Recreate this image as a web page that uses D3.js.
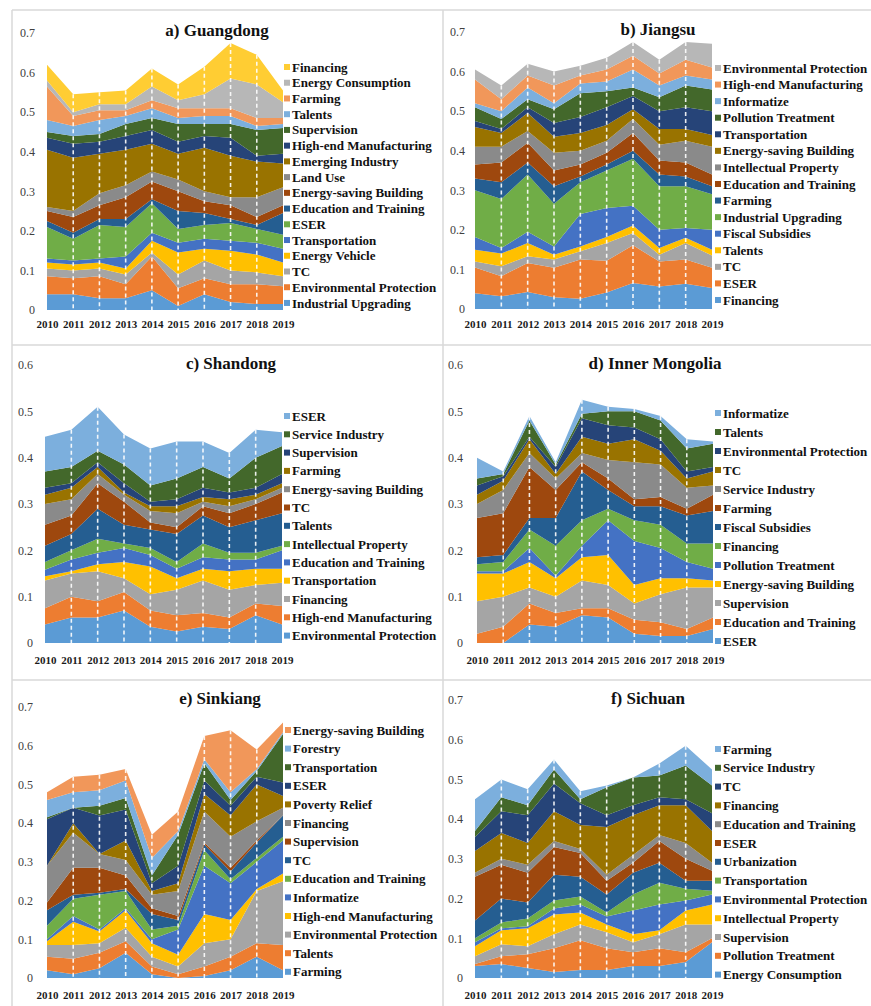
<!DOCTYPE html>
<html>
<head>
<meta charset="utf-8">
<script src="https://cdn.jsdelivr.net/npm/d3@7/dist/d3.min.js"></script>
<style>
  html, body { margin: 0; padding: 0; background: #ffffff; }
  svg { display: block; }
  text { font-family: "Liberation Serif", "Times New Roman", serif; }
</style>
</head>
<body>
<svg id="chart" width="871" height="1006"></svg>
<script>
// Years on the category axis
const years = [2010, 2011, 2012, 2013, 2014, 2015, 2016, 2017, 2018, 2019];

// ---- a) Guangdong (series listed bottom to top of the stack) ----
const guangdongSeries = ["Industrial Upgrading", "Environmental Protection", "TC", "Energy Vehicle",
  "Transportation", "ESER", "Education and Training", "Energy-saving Building", "Land Use",
  "Emerging Industry", "High-end Manufacturing", "Supervision", "Talents", "Farming",
  "Energy Consumption", "Financing"];
const guangdongValues = [
  [0.040, 0.040, 0.030, 0.030, 0.050, 0.010, 0.040, 0.020, 0.015, 0.015],
  [0.045, 0.040, 0.055, 0.035, 0.085, 0.045, 0.040, 0.045, 0.050, 0.045],
  [0.020, 0.020, 0.020, 0.025, 0.010, 0.035, 0.045, 0.035, 0.030, 0.025],
  [0.015, 0.015, 0.015, 0.015, 0.030, 0.055, 0.030, 0.050, 0.045, 0.035],
  [0.010, 0.010, 0.010, 0.030, 0.020, 0.025, 0.025, 0.025, 0.030, 0.035],
  [0.080, 0.055, 0.085, 0.075, 0.075, 0.035, 0.035, 0.045, 0.035, 0.035],
  [0.015, 0.015, 0.015, 0.020, 0.010, 0.045, 0.030, 0.010, 0.010, 0.055],
  [0.025, 0.040, 0.035, 0.055, 0.045, 0.050, 0.030, 0.035, 0.020, 0.020],
  [0.010, 0.015, 0.030, 0.030, 0.025, 0.030, 0.025, 0.020, 0.050, 0.045],
  [0.145, 0.135, 0.100, 0.090, 0.070, 0.065, 0.110, 0.105, 0.090, 0.060],
  [0.030, 0.035, 0.030, 0.035, 0.035, 0.030, 0.030, 0.045, 0.015, 0.025],
  [0.015, 0.020, 0.020, 0.030, 0.030, 0.045, 0.030, 0.035, 0.065, 0.065],
  [0.030, 0.025, 0.035, 0.020, 0.025, 0.015, 0.020, 0.020, 0.010, 0.010],
  [0.085, 0.025, 0.025, 0.015, 0.020, 0.025, 0.020, 0.020, 0.020, 0.015],
  [0.015, 0.010, 0.015, 0.015, 0.035, 0.020, 0.035, 0.075, 0.085, 0.040],
  [0.040, 0.045, 0.030, 0.035, 0.045, 0.040, 0.070, 0.090, 0.075, 0.030]
];

// ---- b) Jiangsu ----
const jiangsuSeries = ["Financing", "ESER", "TC", "Talents", "Fiscal Subsidies",
  "Industrial Upgrading", "Farming", "Education and Training", "Intellectual Property",
  "Energy-saving Building", "Transportation", "Pollution Treatment", "Informatize",
  "High-end Manufacturing", "Environmental Protection"];
const jiangsuValues = [
  [0.040, 0.032, 0.043, 0.030, 0.026, 0.042, 0.066, 0.057, 0.064, 0.053],
  [0.065, 0.051, 0.073, 0.074, 0.099, 0.080, 0.095, 0.063, 0.061, 0.051],
  [0.015, 0.025, 0.017, 0.021, 0.021, 0.045, 0.031, 0.017, 0.042, 0.031],
  [0.030, 0.032, 0.034, 0.012, 0.012, 0.015, 0.019, 0.017, 0.013, 0.015],
  [0.032, 0.014, 0.028, 0.021, 0.082, 0.073, 0.050, 0.046, 0.025, 0.050],
  [0.118, 0.124, 0.145, 0.108, 0.080, 0.095, 0.119, 0.110, 0.105, 0.090],
  [0.030, 0.042, 0.030, 0.044, 0.015, 0.015, 0.020, 0.030, 0.025, 0.020],
  [0.035, 0.050, 0.050, 0.040, 0.030, 0.030, 0.045, 0.035, 0.035, 0.030],
  [0.045, 0.040, 0.030, 0.045, 0.035, 0.030, 0.035, 0.040, 0.055, 0.070],
  [0.050, 0.035, 0.045, 0.040, 0.045, 0.040, 0.025, 0.040, 0.030, 0.030],
  [0.015, 0.010, 0.015, 0.035, 0.040, 0.045, 0.033, 0.045, 0.055, 0.060],
  [0.035, 0.025, 0.020, 0.035, 0.060, 0.040, 0.022, 0.035, 0.055, 0.055],
  [0.010, 0.020, 0.030, 0.015, 0.025, 0.025, 0.045, 0.030, 0.025, 0.025],
  [0.060, 0.030, 0.030, 0.045, 0.020, 0.030, 0.035, 0.030, 0.040, 0.030],
  [0.025, 0.035, 0.030, 0.035, 0.025, 0.030, 0.035, 0.035, 0.045, 0.060]
];

// ---- c) Shandong ----
const shandongSeries = ["Environmental Protection", "High-end Manufacturing", "Financing",
  "Transportation", "Education and Training", "Intellectual Property", "Talents", "TC",
  "Energy-saving Building", "Farming", "Supervision", "Service Industry", "ESER"];
const shandongValues = [
  [0.040, 0.055, 0.055, 0.070, 0.035, 0.025, 0.035, 0.030, 0.060, 0.040],
  [0.035, 0.045, 0.035, 0.040, 0.035, 0.035, 0.030, 0.025, 0.025, 0.040],
  [0.060, 0.050, 0.065, 0.030, 0.035, 0.055, 0.070, 0.060, 0.040, 0.050],
  [0.009, 0.005, 0.015, 0.035, 0.060, 0.025, 0.025, 0.040, 0.035, 0.030],
  [0.014, 0.025, 0.025, 0.030, 0.025, 0.020, 0.025, 0.025, 0.020, 0.040],
  [0.017, 0.020, 0.030, 0.010, 0.015, 0.015, 0.030, 0.015, 0.015, 0.010],
  [0.035, 0.035, 0.065, 0.040, 0.040, 0.060, 0.060, 0.055, 0.070, 0.070],
  [0.045, 0.040, 0.055, 0.050, 0.015, 0.015, 0.020, 0.030, 0.035, 0.045],
  [0.045, 0.035, 0.020, 0.015, 0.025, 0.030, 0.010, 0.015, 0.010, 0.010],
  [0.020, 0.025, 0.015, 0.005, 0.010, 0.015, 0.010, 0.015, 0.010, 0.010],
  [0.015, 0.010, 0.010, 0.020, 0.010, 0.015, 0.020, 0.015, 0.015, 0.020],
  [0.035, 0.035, 0.025, 0.040, 0.035, 0.045, 0.045, 0.030, 0.065, 0.060],
  [0.075, 0.080, 0.095, 0.065, 0.080, 0.080, 0.055, 0.055, 0.060, 0.030]
];

// ---- d) Inner Mongolia ----
const innerMongoliaSeries = ["ESER", "Education and Training", "Supervision",
  "Energy-saving Building", "Pollution Treatment", "Financing", "Fiscal Subsidies", "Farming",
  "Service Industry", "TC", "Environmental Protection", "Talents", "Informatize"];
const innerMongoliaValues = [
  [0.000, 0.000, 0.040, 0.035, 0.060, 0.055, 0.020, 0.015, 0.015, 0.030],
  [0.020, 0.035, 0.045, 0.030, 0.015, 0.020, 0.030, 0.030, 0.015, 0.025],
  [0.070, 0.065, 0.035, 0.035, 0.060, 0.050, 0.035, 0.060, 0.090, 0.065],
  [0.060, 0.050, 0.055, 0.040, 0.050, 0.065, 0.040, 0.035, 0.020, 0.015],
  [0.005, 0.005, 0.030, 0.005, 0.025, 0.075, 0.095, 0.065, 0.035, 0.025],
  [0.015, 0.020, 0.040, 0.065, 0.055, 0.025, 0.045, 0.050, 0.040, 0.055],
  [0.015, 0.015, 0.025, 0.060, 0.105, 0.040, 0.030, 0.040, 0.060, 0.070],
  [0.085, 0.090, 0.110, 0.060, 0.020, 0.025, 0.015, 0.020, 0.015, 0.035],
  [0.030, 0.050, 0.030, 0.025, 0.020, 0.040, 0.080, 0.070, 0.045, 0.020],
  [0.020, 0.020, 0.030, 0.010, 0.035, 0.035, 0.050, 0.030, 0.020, 0.030],
  [0.020, 0.010, 0.005, 0.015, 0.040, 0.040, 0.025, 0.025, 0.015, 0.010],
  [0.015, 0.005, 0.035, 0.005, 0.010, 0.030, 0.035, 0.040, 0.050, 0.050],
  [0.045, 0.005, 0.010, 0.005, 0.030, 0.010, 0.005, 0.010, 0.020, 0.005]
];

// ---- e) Sinkiang ----
const sinkiangSeries = ["Farming", "Talents", "Environmental Protection", "High-end Manufacturing",
  "Informatize", "Education and Training", "TC", "Supervision", "Financing", "Poverty Relief",
  "ESER", "Transportation", "Forestry", "Energy-saving Building"];
const sinkiangValues = [
  [0.020, 0.010, 0.025, 0.065, 0.010, 0.000, 0.005, 0.020, 0.055, 0.020],
  [0.035, 0.040, 0.040, 0.030, 0.020, 0.010, 0.025, 0.035, 0.035, 0.065],
  [0.030, 0.035, 0.025, 0.035, 0.025, 0.020, 0.060, 0.045, 0.135, 0.165],
  [0.010, 0.060, 0.030, 0.045, 0.035, 0.030, 0.075, 0.050, 0.005, 0.020],
  [0.005, 0.015, 0.005, 0.005, 0.010, 0.065, 0.125, 0.095, 0.070, 0.085],
  [0.035, 0.045, 0.090, 0.045, 0.025, 0.010, 0.040, 0.010, 0.010, 0.010],
  [0.040, 0.010, 0.005, 0.005, 0.040, 0.015, 0.015, 0.020, 0.040, 0.055],
  [0.020, 0.070, 0.065, 0.035, 0.015, 0.010, 0.005, 0.010, 0.005, 0.000],
  [0.095, 0.090, 0.035, 0.040, 0.035, 0.065, 0.080, 0.080, 0.050, 0.020],
  [0.000, 0.025, 0.000, 0.050, 0.010, 0.020, 0.045, 0.055, 0.095, 0.030],
  [0.120, 0.040, 0.100, 0.080, 0.020, 0.045, 0.035, 0.025, 0.020, 0.035],
  [0.005, 0.000, 0.025, 0.030, 0.020, 0.080, 0.045, 0.015, 0.015, 0.125],
  [0.045, 0.040, 0.040, 0.045, 0.045, 0.010, 0.010, 0.020, 0.005, 0.005],
  [0.020, 0.040, 0.040, 0.030, 0.060, 0.050, 0.060, 0.160, 0.050, 0.025]
];

// ---- f) Sichuan ----
const sichuanSeries = ["Energy Consumption", "Pollution Treatment", "Supervision",
  "Intellectual Property", "Environmental Protection", "Transportation", "Urbanization", "ESER",
  "Education and Training", "Financing", "TC", "Service Industry", "Farming"];
const sichuanValues = [
  [0.030, 0.035, 0.025, 0.015, 0.020, 0.020, 0.030, 0.030, 0.040, 0.090],
  [0.005, 0.020, 0.035, 0.060, 0.075, 0.055, 0.035, 0.045, 0.025, 0.010],
  [0.020, 0.030, 0.020, 0.035, 0.040, 0.040, 0.025, 0.035, 0.070, 0.035],
  [0.025, 0.035, 0.045, 0.050, 0.030, 0.020, 0.020, 0.010, 0.035, 0.050],
  [0.010, 0.005, 0.005, 0.015, 0.020, 0.020, 0.060, 0.065, 0.025, 0.025],
  [0.010, 0.015, 0.020, 0.020, 0.020, 0.010, 0.040, 0.055, 0.030, 0.010],
  [0.045, 0.060, 0.040, 0.065, 0.050, 0.045, 0.055, 0.050, 0.020, 0.025],
  [0.110, 0.085, 0.075, 0.070, 0.060, 0.035, 0.025, 0.055, 0.055, 0.025],
  [0.010, 0.015, 0.020, 0.015, 0.010, 0.015, 0.020, 0.015, 0.040, 0.020],
  [0.055, 0.065, 0.055, 0.075, 0.060, 0.120, 0.100, 0.075, 0.095, 0.080],
  [0.035, 0.055, 0.070, 0.070, 0.055, 0.030, 0.025, 0.020, 0.015, 0.045],
  [0.015, 0.035, 0.025, 0.035, 0.010, 0.070, 0.070, 0.055, 0.085, 0.070],
  [0.080, 0.045, 0.040, 0.025, 0.020, 0.005, 0.000, 0.030, 0.050, 0.040]
];

// Office-style series colours, assigned in stacking order
const seriesColors = ["#5B9BD5", "#ED7D31", "#A5A5A5", "#FFC000", "#4472C4", "#70AD47",
  "#255E91", "#9E480E", "#8A8A8A", "#997300", "#264478", "#43682B",
  "#7CAFDD", "#F1975A", "#B7B7B7", "#FFCD33"];

// Panel placement on the page
const panels = [
  { title: "a) Guangdong", series: guangdongSeries, values: guangdongValues, yMax: 0.7,
    left: 47, right: 283, bottom: 310, top: 33, tickRight: 35, xLabelY: 324,
    titleX: 217, titleY: 30, legendX: 284, legendY: 67, legendStep: 15.73 },
  { title: "b) Jiangsu", series: jiangsuSeries, values: jiangsuValues, yMax: 0.7,
    left: 475, right: 712, bottom: 309, top: 32, tickRight: 465, xLabelY: 324,
    titleX: 658, titleY: 29, legendX: 715, legendY: 68, legendStep: 16.57 },
  { title: "c) Shandong", series: shandongSeries, values: shandongValues, yMax: 0.6,
    left: 45, right: 282, bottom: 643, top: 365, tickRight: 33, xLabelY: 660,
    titleX: 231, titleY: 363, legendX: 284, legendY: 416, legendStep: 18.3 },
  { title: "d) Inner Mongolia", series: innerMongoliaSeries, values: innerMongoliaValues, yMax: 0.6,
    left: 477, right: 713, bottom: 643, top: 365, tickRight: 463, xLabelY: 660,
    titleX: 655, titleY: 363, legendX: 715, legendY: 413, legendStep: 19 },
  { title: "e) Sinkiang", series: sinkiangSeries, values: sinkiangValues, yMax: 0.7,
    left: 47, right: 283, bottom: 978, top: 707, tickRight: 33, xLabelY: 995,
    titleX: 220, titleY: 698, legendX: 285, legendY: 730, legendStep: 18.6 },
  { title: "f) Sichuan", series: sichuanSeries, values: sichuanValues, yMax: 0.7,
    left: 475, right: 712, bottom: 978, top: 700, tickRight: 463, xLabelY: 995,
    titleX: 648, titleY: 698, legendX: 715, legendY: 749, legendStep: 18.8 }
];

const svg = d3.select("#chart");

// Light frame lines separating the six charts
const frame = svg.append("g").attr("stroke", "#D9D9D9").attr("stroke-width", 1.5);
frame.append("line").attr("x1", 12).attr("x2", 12).attr("y1", 10).attr("y2", 1006);
frame.append("line").attr("x1", 443).attr("x2", 443).attr("y1", 10).attr("y2", 1006);
frame.append("line").attr("x1", 12).attr("x2", 871).attr("y1", 10).attr("y2", 10);
frame.append("line").attr("x1", 12).attr("x2", 871).attr("y1", 345).attr("y2", 345);
frame.append("line").attr("x1", 12).attr("x2", 871).attr("y1", 680).attr("y2", 680);

const tickFormat = d => d === 0 ? "0" : d3.format(".1f")(d);

panels.forEach(p => {
  const g = svg.append("g");
  const x = d3.scalePoint().domain(years).range([p.left, p.right]).padding(0);
  const y = d3.scaleLinear().domain([0, p.yMax]).range([p.bottom, p.top]);

  const rows = years.map((yr, i) => ({ year: yr, i }));
  const keys = d3.range(p.series.length);
  const stacked = d3.stack().keys(keys).value((d, k) => p.values[k][d.i])(rows);

  const area = d3.area()
    .x(d => x(d.data.year))
    .y0(d => y(d[0]))
    .y1(d => y(d[1]));

  g.append("g").selectAll("path")
    .data(stacked)
    .join("path")
    .attr("fill", (d, k) => seriesColors[k])
    .attr("d", area);

  // White dashed drop lines at the inner years
  const totals = rows.map(r => d3.sum(p.values, s => s[r.i]));
  g.append("g").selectAll("line")
    .data(rows.slice(1, -1))
    .join("line")
    .attr("x1", d => x(d.year)).attr("x2", d => x(d.year))
    .attr("y1", d => y(totals[d.i])).attr("y2", y(0))
    .attr("stroke", "#ffffff").attr("stroke-width", 1.6)
    .attr("stroke-dasharray", "4,3").attr("opacity", 0.9);

  // Value axis
  const yAxis = g.append("g")
    .attr("transform", `translate(${p.tickRight},0)`)
    .call(d3.axisLeft(y).tickValues(d3.range(0, p.yMax + 0.001, 0.1)).tickSize(0).tickPadding(0).tickFormat(tickFormat));
  yAxis.select(".domain").remove();
  yAxis.selectAll("text")
    .attr("font-size", 12).attr("fill", "#404040");

  // Year axis
  const xAxis = g.append("g")
    .attr("transform", `translate(0,${p.xLabelY})`)
    .call(d3.axisBottom(x).tickSize(0).tickPadding(0));
  xAxis.select(".domain").remove();
  xAxis.selectAll("text")
    .attr("font-size", 11).attr("font-weight", "bold").attr("fill", "#1a1a1a")
    .attr("dy", "0.35em");

  // Title
  g.append("text")
    .attr("x", p.titleX).attr("y", p.titleY)
    .attr("text-anchor", "middle").attr("dy", "0.35em")
    .attr("font-size", 17).attr("font-weight", "bold").attr("fill", "#111")
    .text(p.title);

  // Legend, top entry is the last series in the stack
  const legendItems = keys.slice().reverse();
  const lg = g.append("g").selectAll("g")
    .data(legendItems)
    .join("g")
    .attr("transform", (k, j) => `translate(${p.legendX},${p.legendY + j * p.legendStep})`);
  lg.append("rect")
    .attr("x", 0).attr("y", -3).attr("width", 6).attr("height", 6)
    .attr("fill", k => seriesColors[k]);
  lg.append("text")
    .attr("x", 8).attr("y", 0).attr("dy", "0.35em")
    .attr("font-size", 13).attr("font-weight", "bold").attr("fill", "#111")
    .text(k => p.series[k]);
});
</script>
</body>
</html>
